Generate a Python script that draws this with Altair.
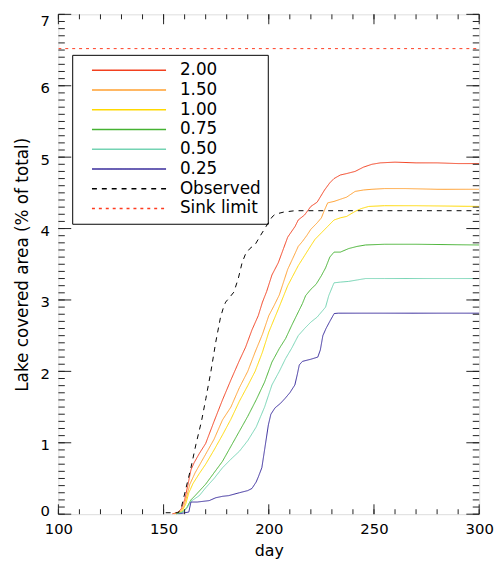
import altair as alt
import pandas as pd

# ---------------- data ----------------
series_names = ["2.00", "1.50", "1.00", "0.75", "0.50", "0.25", "Observed", "Sink limit"]
series_colors = ["#f2401f", "#ffa030", "#ffd800", "#45b232", "#74d3b3", "#3a2d9c", "#000000", "#ff3b1f"]
series_dash = [[1, 0], [1, 0], [1, 0], [1, 0], [1, 0], [1, 0], [5, 5], [3, 4]]

red_day = [154, 157, 158.5, 160, 161.5, 163, 164.5, 167, 170, 174, 178, 182, 186, 189, 192, 195, 197, 199,
           201.5, 204.5, 207, 209, 212.5, 214, 217, 220, 223, 226.5, 229, 231, 234, 237, 241, 245, 249, 253,
           260, 270, 280, 290, 300]
red_val = [0, 0.03, 0.08, 0.2, 0.4, 0.62, 0.72, 0.85, 0.99, 1.3, 1.6, 1.88, 2.15, 2.34, 2.58, 2.78, 2.97, 3.12,
           3.35, 3.52, 3.72, 3.88, 4.03, 4.12, 4.19, 4.31, 4.37, 4.54, 4.64, 4.7, 4.75, 4.77, 4.8, 4.86, 4.9, 4.92,
           4.93, 4.92, 4.92, 4.91, 4.91]

orange_day = [155, 158, 159.5, 161, 162.5, 165, 170, 174, 178, 182, 186, 190, 193.5, 197, 200, 202.5, 205, 209,
              212, 214, 216, 218, 220, 223, 225, 226.5, 228, 231, 234, 237, 241, 245, 249, 255, 265, 280, 300]
orange_val = [0, 0.04, 0.1, 0.25, 0.42, 0.58, 0.84, 1.05, 1.32, 1.5, 1.77, 2.0, 2.27, 2.52, 2.78, 2.92, 3.07, 3.43,
              3.62, 3.75, 3.82, 3.9, 3.99, 4.08, 4.15, 4.26, 4.36, 4.38, 4.41, 4.44, 4.52, 4.54, 4.55, 4.56, 4.56,
              4.55, 4.55]

yellow_day = [156, 159, 160.5, 162, 164, 167, 170, 174, 178, 182, 186, 190, 193.5, 197, 200, 204.5, 209, 214, 217,
              220, 222, 225, 228, 231, 234, 237, 241, 244, 247.5, 255, 270, 300]
yellow_val = [0, 0.05, 0.14, 0.3, 0.43, 0.57, 0.7, 0.9, 1.11, 1.33, 1.58, 1.8, 2.0, 2.27, 2.55, 2.87, 3.2, 3.48,
              3.62, 3.76, 3.85, 3.94, 4.03, 4.12, 4.15, 4.17, 4.24, 4.28, 4.31, 4.32, 4.32, 4.31]

green_day = [156, 159, 161, 163, 165, 170, 174, 178, 182, 186, 190, 194, 198, 201.5, 205, 208, 211, 214, 216, 217.5,
             220, 222.5, 225, 227, 229, 231, 234, 238, 242, 246, 255, 270, 300]
green_val = [0, 0.03, 0.09, 0.2, 0.26, 0.42, 0.58, 0.74, 0.95, 1.16, 1.37, 1.6, 1.85, 2.13, 2.32, 2.46, 2.65, 2.83,
             2.95, 3.06, 3.15, 3.22, 3.34, 3.45, 3.6, 3.67, 3.67, 3.72, 3.75, 3.77, 3.78, 3.78, 3.77]

teal_day = [156, 159, 161, 163, 165, 167, 170, 174, 178, 182, 186, 190, 194, 198, 201.5, 205, 208, 211, 214, 217,
            220, 223, 225, 227, 228.5, 231, 234, 238, 242, 246, 255, 300]
teal_val = [0, 0.03, 0.08, 0.18, 0.22, 0.26, 0.37, 0.5, 0.65, 0.77, 0.88, 1.03, 1.22, 1.5, 1.81, 2.0, 2.18, 2.33,
            2.5, 2.6, 2.69, 2.76, 2.83, 2.9, 3.06, 3.24, 3.25, 3.26, 3.28, 3.3, 3.3, 3.3]

blue_day = [157, 160, 162, 163, 166, 171.7, 174.8, 178, 181, 186, 190, 192, 194, 195, 196.7, 198, 199.8, 201, 203,
            205.5, 207.7, 210, 212.4, 213.5, 214.5, 216, 220, 223.3, 224.5, 225.7, 227.2, 229, 231.1, 233, 240,
            260, 300]
blue_val = [0, 0.02, 0.03, 0.17, 0.17, 0.19, 0.23, 0.25, 0.26, 0.3, 0.33, 0.36, 0.45, 0.52, 0.65, 0.9, 1.25, 1.4,
            1.49, 1.55, 1.62, 1.7, 1.81, 1.95, 2.09, 2.14, 2.17, 2.2, 2.3, 2.5, 2.6, 2.7, 2.81, 2.815, 2.815, 2.815,
            2.815]

obs_day = [151, 157, 158.5, 160.7, 163, 165.4, 168, 170.1, 172.5, 174.8, 177, 178.5, 179.5, 181.5, 183.4, 185.5,
           187.3, 188.9, 191, 193.6, 196, 198.3, 199.8, 201.5, 203, 207, 212.4, 250, 300]
obs_val = [0.02, 0.02, 0.1, 0.37, 0.65, 0.98, 1.3, 1.62, 2.0, 2.41, 2.75, 2.9, 2.97, 3.04, 3.11, 3.3, 3.52, 3.64,
           3.72, 3.78, 3.9, 4.01, 4.08, 4.16, 4.2, 4.23, 4.25, 4.25, 4.25]

sink_day = [100, 300]
sink_val = [6.52, 6.52]

# axis tick positions
x_major = [100, 150, 200, 250, 300]
x_minor = list(range(100, 301, 10))
y_major = [0, 1, 2, 3, 4, 5, 6, 7]
y_minor = [i / 10 for i in range(0, 71)]

# ---------------- build tables ----------------
all_days = [red_day, orange_day, yellow_day, green_day, teal_day, blue_day, obs_day, sink_day]
all_vals = [red_val, orange_val, yellow_val, green_val, teal_val, blue_val, obs_val, sink_val]
rows = []
for name, ds, vs in zip(series_names, all_days, all_vals):
    for d, v in zip(ds, vs):
        rows.append({"series": name, "day": d, "value": v})
df = pd.DataFrame(rows)

W, H = 426, 506
FONT = "DejaVu Sans"

xscale = alt.Scale(domain=[100, 300], nice=False, zero=False)
yscale = alt.Scale(domain=[0, 7], nice=False, zero=False)
xaxis = alt.Axis(values=x_major, ticks=False, tickSize=0, domain=False, grid=False, labelFont=FONT,
                 labelFontSize=15, labelColor="#000", labelPadding=8, labelFlush=False, title="day",
                 titleFont=FONT, titleFontSize=16, titleFontWeight="normal", titleColor="#000", titlePadding=6)
y_label_offset = {"condition": [{"test": "datum.value === 7", "value": 6},
                                {"test": "datum.value === 0", "value": -4}],
                  "value": 2}
yaxis = alt.Axis(values=y_major, format="d", ticks=False, tickSize=0, domain=False, grid=False, labelFont=FONT,
                 labelFontSize=15, labelColor="#000", labelPadding=9, labelFlush=False,
                 labelOffset=y_label_offset,
                 title="Lake covered area (% of total)", titleFont=FONT, titleFontSize=17,
                 titleFontWeight="normal", titleColor="#000", titlePadding=9)

legend = alt.Legend(orient="none", legendX=14, legendY=41, title=None, strokeColor="#000", padding=7,
                    symbolType="M-7.5,0H7.5", symbolSize=100, symbolStrokeWidth=1.5, labelFont=FONT,
                    labelFontSize=17, labelColor="#000", rowPadding=2, symbolOffset=42, labelOffset=43,
                    labelLimit=250, direction="vertical")

lines = alt.Chart(df).mark_line(strokeWidth=1, clip=True).encode(
    x=alt.X("day:Q", scale=xscale, axis=xaxis),
    y=alt.Y("value:Q", scale=yscale, axis=yaxis),
    color=alt.Color("series:N", scale=alt.Scale(domain=series_names, range=series_colors), legend=legend),
    strokeDash=alt.StrokeDash("series:N", scale=alt.Scale(domain=series_names, range=series_dash), legend=legend),
    detail="series:N",
)

xmin_df = pd.DataFrame({"day": x_minor})
xmaj_df = pd.DataFrame({"day": x_major})
ymin_df = pd.DataFrame({"value": y_minor})
ymaj_df = pd.DataFrame({"value": y_major})
tick_style = dict(color="#222", strokeWidth=1)
X = alt.X("day:Q", scale=xscale, axis=xaxis)
Y = alt.Y("value:Q", scale=yscale, axis=yaxis)

ticks = [
    alt.Chart(xmin_df).mark_rule(**tick_style).encode(x=X, y=alt.value(H), y2=alt.value(H - 5)),
    alt.Chart(xmin_df).mark_rule(**tick_style).encode(x=X, y=alt.value(0), y2=alt.value(5)),
    alt.Chart(xmaj_df).mark_rule(**tick_style).encode(x=X, y=alt.value(H), y2=alt.value(H - 10)),
    alt.Chart(xmaj_df).mark_rule(**tick_style).encode(x=X, y=alt.value(0), y2=alt.value(10)),
    alt.Chart(ymin_df).mark_rule(**tick_style).encode(y=Y, x=alt.value(0), x2=alt.value(6.5)),
    alt.Chart(ymin_df).mark_rule(**tick_style).encode(y=Y, x=alt.value(W), x2=alt.value(W - 6.5)),
    alt.Chart(ymaj_df).mark_rule(**tick_style).encode(y=Y, x=alt.value(0), x2=alt.value(13)),
    alt.Chart(ymaj_df).mark_rule(**tick_style).encode(y=Y, x=alt.value(W), x2=alt.value(W - 13)),
]

chart = alt.layer(lines, *ticks).properties(
    width=W, height=H,
    autosize=alt.AutoSizeParams(type="none"),
    padding={"left": 51, "top": 3, "right": 15, "bottom": 46},
).configure_view(stroke="#222", strokeWidth=1.5).configure(background="white")

chart.save("out.html", embed_options={"renderer": "svg", "actions": False})
